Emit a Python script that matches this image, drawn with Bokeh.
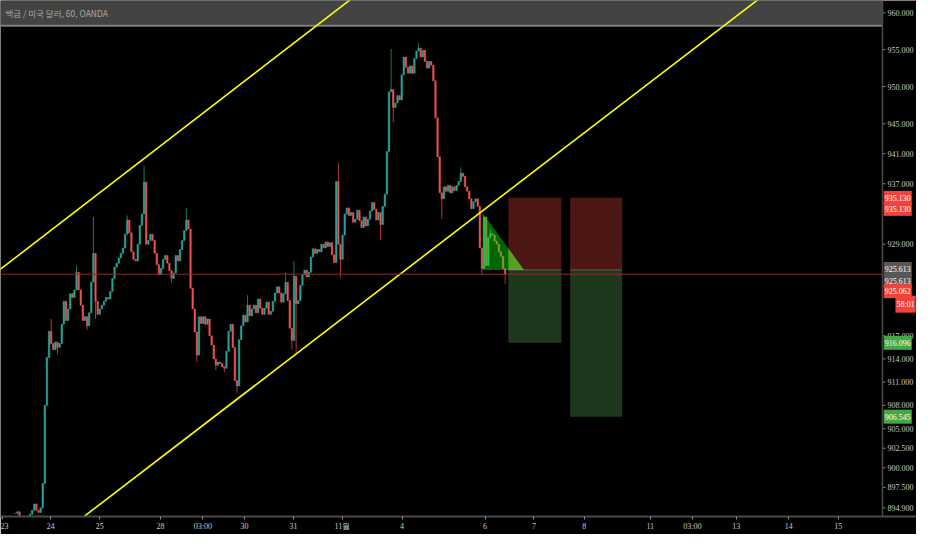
import math
from bokeh.plotting import figure
from bokeh.models import (Range1d, FixedTicker, PrintfTickFormatter, Label, Span,
                          BoxAnnotation, ColumnDataSource)
from bokeh.embed import file_html
from bokeh.resources import INLINE

# ---------------- data ----------------
TITLE = "백금 / 미국 달러, 60, OANDA"
FIRST_BAR = 7   # bar index of the first close below

closes = [
    894.2, 894.4, 893.6, 893.4, 893.5, 893.3, 893.6, 894.1, 894.6, 895.4,
    894.6, 894.3, 894.9, 898.0, 908.0, 914.2, 917.6, 916.0, 915.2, 916.2,
    915.5, 916.0, 918.5, 921.5, 919.0, 920.5, 922.5, 922.0, 923.0, 925.3,
    923.0, 921.0, 919.0, 919.5, 918.3, 920.0, 924.0, 927.8, 921.5, 919.8,
    920.5, 921.0, 921.5, 922.0, 921.8, 922.8, 924.5, 926.0, 926.5, 927.2,
    927.8, 928.5, 930.3, 932.2, 930.5, 928.0, 927.0, 926.8, 929.0, 931.5,
    933.0, 937.2, 929.0, 929.5, 930.3, 929.5, 927.8, 926.3, 925.0, 925.8,
    927.0, 927.5, 926.5, 925.5, 924.5, 925.2, 927.5, 926.8, 928.3, 929.5,
    930.8, 932.2, 931.0, 923.2, 920.5, 917.5, 914.5, 919.5, 918.6, 919.5,
    918.5, 919.2, 917.0, 915.8, 914.0, 913.2, 913.6, 913.4, 913.0, 912.8,
    915.0, 917.6, 918.5, 915.5, 911.2, 910.5, 916.5, 918.3, 919.7, 918.8,
    921.0, 919.6, 920.5, 921.0, 920.0, 921.8, 920.6, 919.8, 920.6, 921.4,
    919.8, 920.2, 921.5, 922.6, 923.4, 922.6, 921.4, 922.5, 924.0, 921.6,
    918.0, 916.4, 924.8, 921.2, 921.6, 923.6, 925.0, 925.6, 924.7, 925.3,
    927.3, 928.4, 927.8, 928.3, 928.0, 929.0, 928.5, 929.3, 928.7, 929.2,
    927.6, 926.6, 937.3, 929.0, 927.0, 930.2, 933.0, 933.8, 932.8, 933.2,
    931.9, 932.3, 933.5, 932.1, 931.2, 932.6, 931.4, 932.3, 933.4, 934.5,
    933.6, 932.2, 933.2, 931.6, 934.0, 935.6, 941.3, 949.3, 949.6, 947.2,
    947.8, 948.8, 948.2, 951.6, 954.0, 952.6, 951.8, 952.8, 951.8, 953.8,
    954.8, 955.2, 954.0, 954.9, 953.4, 952.5, 953.4, 952.9, 950.8, 945.8,
    940.6, 935.8, 935.0, 936.6, 936.0, 936.8, 935.8, 936.6, 936.1, 936.8,
    937.3, 938.4, 938.0, 936.6, 936.0, 935.0, 933.7, 934.6, 935.0, 934.0,
    928.5, 925.8, 932.6, 926.2, 929.9, 930.4, 930.2, 929.4, 929.0, 928.0,
    927.4, 925.8, 925.062,
]

# wick extremes (bar index -> price)
wick_high = {24: 919.2, 36: 926.2, 44: 932.6, 60: 932.8, 68: 939.4, 88: 933.8,
             117: 922.3, 135: 925.3, 139: 926.8, 160: 939.8, 185: 955.1,
             198: 955.9, 218: 939.2, 232: 931.0}
wick_low = {27: 914.6, 41: 917.8, 45: 919.2, 81: 924.0, 93: 913.6, 102: 912.6,
            106: 912.3, 112: 909.6, 138: 915.2, 140: 914.8, 161: 924.6,
            180: 929.6, 186: 945.2, 209: 932.3, 228: 925.0, 239: 923.8}

x_tick_pos = [0.9, 23.7, 47.0, 75.8, 95.8, 115.6, 138.8, 161.9, 190.2, 229.5,
              252.6, 276.5, 307.7, 327.7, 348.4, 373.3, 396.7]
x_tick_labels = ["23", "24", "25", "28", "03:00", "30", "31", "11월", "4", "6",
                 "7", "8", "11", "03:00", "13", "14", "15"]
y_ticks = [960, 955, 950, 945, 941, 937, 929, 917, 914, 911, 908, 905,
           902.5, 900, 897.5, 894.9]

# channel trend lines: anchor (bar, price)
upper_line_x = [-9.3, 195.35]
upper_line_p = [923.73, 968.41]
lower_line_x = [27.91, 390.70]
lower_line_p = [891.41, 968.89]

# short position tools
entry_price = 925.613
stop_price = 935.13
target_prices = [916.096, 906.545]
box_left = [240.5, 269.8]
box_right = [265.6, 294.4]

# triangle drawing (bar, price)
tri_x = [228.4, 228.4, 247.9]
tri_p = [933.13, 925.613, 925.613]

last_price = 925.062
countdown = "58:01"
header_price = 958.24

# ---------------- build ----------------
FONT = "Liberation Sans Narrow"
UP, DOWN = "#26a69a", "#ef5350"

CHART_END = 417.7                 # right edge of the price area (bars)
FW, FH = 916, 516                 # frame incl. the price-scale column
SCALE_W = 34                      # price-scale column width, px
X_END = CHART_END * FW / (FW - SCALE_W)
BAR_PX = (FW - SCALE_W) / CHART_END

idx = list(range(FIRST_BAR, FIRST_BAR + len(closes)))
opens = [closes[0]] + closes[:-1]
highs, lows, colors = [], [], []
for k, i in enumerate(idx):
    o, c = opens[k], closes[k]
    highs.append(max(wick_high.get(i, max(o, c)), o, c))
    lows.append(min(wick_low.get(i, min(o, c)), o, c))
    colors.append(UP if c >= o else DOWN)

src = ColumnDataSource(dict(x=idx, o=opens, c=closes, h=highs, l=lows,
                            top=[max(a, b) for a, b in zip(opens, closes)],
                            bot=[min(a, b) for a, b in zip(opens, closes)],
                            col=colors))

p = figure(frame_width=FW, frame_height=FH,
           x_range=Range1d(0, X_END), y_range=Range1d(893.8, 961.68),
           y_axis_type="log", y_axis_location="right",
           output_backend="svg", toolbar_location=None,
           background_fill_color="black", border_fill_color="black",
           min_border_left=0, min_border_top=0, min_border_right=0,
           min_border_bottom=18)
p.outline_line_color = None
p.xgrid.visible = False
p.ygrid.visible = False

# header band
p.add_layout(BoxAnnotation(bottom=header_price, right=CHART_END, fill_color="#434343",
                           fill_alpha=1, line_color=None, level="underlay"))
p.line([0, CHART_END], [header_price, header_price], line_color="#7d7d7d", line_width=2)

# candles
p.segment(x0="x", x1="x", y0="l", y1="h", color="col", line_alpha=0.7,
          line_width=1, source=src)
p.vbar(x="x", width=0.7, top="top", bottom="bot", fill_color="col",
       line_color="col", line_width=0.5, source=src)

# position boxes
for L, R, T in zip(box_left, box_right, target_prices):
    p.quad(left=L, right=R, bottom=entry_price, top=stop_price,
           fill_color="#4b1614", line_color=None)
    p.quad(left=L, right=R, bottom=T, top=entry_price,
           fill_color="#1e381e", line_color=None)
    p.line([L, R], [entry_price, entry_price], line_color="#5e5e50", line_width=1)

# triangle (green) and its part over the first box (olive)
p.patch(tri_x, tri_p, fill_color="#00ff00", fill_alpha=0.4, line_color=None)
frac = (box_left[0] - tri_x[0]) / (tri_x[2] - tri_x[0])
p_mid = math.exp(math.log(tri_p[0]) + frac * (math.log(tri_p[2]) - math.log(tri_p[0])))
p.patch([box_left[0], box_left[0], tri_x[2]], [p_mid, tri_p[2], tri_p[2]],
        fill_color="#96e639", fill_alpha=0.4, line_color=None)

# channel lines
p.line(upper_line_x, upper_line_p, line_color="#ffff00", line_width=1.6)
p.line(lower_line_x, lower_line_p, line_color="#ffff00", line_width=1.6)

# current price line
p.line([0, CHART_END], [last_price, last_price], line_color="#8f2b2b", line_width=1)

# price-scale column: separator line and tick dashes
p.add_layout(Span(location=CHART_END, dimension="height", line_color="#4a4a4a",
                  line_width=1.5))
tick_len = 3 / BAR_PX
p.segment(x0=[CHART_END] * len(y_ticks), x1=[CHART_END + tick_len] * len(y_ticks),
          y0=y_ticks, y1=y_ticks, line_color="#8a8a8a", line_width=1)

# axes
ya = p.yaxis[0]
ya.ticker = FixedTicker(ticks=y_ticks)
ya.formatter = PrintfTickFormatter(format="%.3f")
ya.major_label_text_font = FONT
ya.major_label_text_font_size = "8px"
ya.major_label_text_color = "#c8c8c8"
ya.axis_line_color = None
ya.major_tick_line_color = None
ya.major_tick_out = 0
ya.major_tick_in = 0
ya.minor_tick_line_color = None
ya.major_label_standoff = -(SCALE_W - 5)

xa = p.xaxis[0]
xa.ticker = FixedTicker(ticks=x_tick_pos)
xa.major_label_overrides = {t: s for t, s in zip(x_tick_pos, x_tick_labels)}
xa.major_label_text_font = FONT
xa.major_label_text_font_size = "8px"
xa.major_label_text_color = "#c8c8c8"
xa.axis_line_color = "#4a4a4a"
xa.axis_line_width = 2
xa.major_tick_line_color = "#8a8a8a"
xa.major_tick_out = 3
xa.major_tick_in = 0
xa.minor_tick_line_color = None
xa.major_label_standoff = 2

# header text
p.add_layout(Label(x=5, y=FH - 12, x_units="screen", y_units="screen", text=TITLE,
                   text_font="Noto Sans CJK KR", text_font_size="8.5px",
                   text_color="#a8a8a8", text_baseline="middle"))

# price labels on the right scale
RED, GREEN, GRAY = "#f0443a", "#43a846", "#575757"
lab_price = [stop_price, stop_price, entry_price, entry_price, last_price,
             target_prices[0], target_prices[1]]
lab_bg = [RED, RED, GRAY, GRAY, RED, GREEN, GREEN]
lab_dy = [0, 11, -1, 11, 17, 0, 0]
lab_src = ColumnDataSource(dict(
    x=[CHART_END + 0.6] * len(lab_price), y=lab_price,
    t=["%.3f" % v for v in lab_price], bg=lab_bg, dy=lab_dy))
r = p.text(x="x", y="y", text="t", y_offset="dy", source=lab_src,
           text_font={"value": FONT}, text_font_size="8px", text_color="white",
           text_align="left", text_baseline="middle",
           background_fill_color="bg", padding=(1, 4))
r.level = "overlay"
cd_src = ColumnDataSource(dict(x=[X_END - 0.4], y=[last_price], t=[countdown], dy=[30]))
r2 = p.text(x="x", y="y", text="t", y_offset="dy", source=cd_src,
            text_font={"value": FONT}, text_font_size="8px", text_color="white",
            text_align="right", text_baseline="middle",
            background_fill_color=RED, padding=(1, 4))
r2.level = "overlay"

open("out.html", "w").write(file_html(p, INLINE))
